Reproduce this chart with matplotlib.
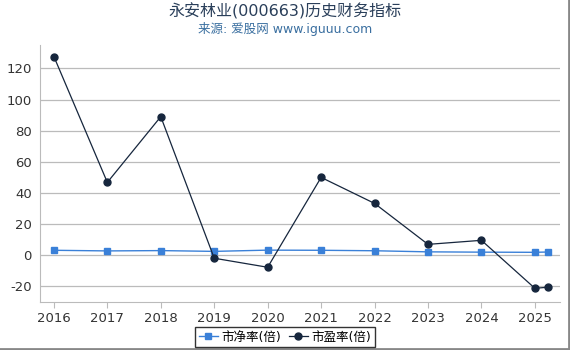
import matplotlib
matplotlib.use("Agg")
import matplotlib.pyplot as plt

plt.rcParams['font.family'] = ['DejaVu Sans', 'Noto Sans CJK SC']
plt.rcParams['axes.unicode_minus'] = False

years = [2016, 2017, 2018, 2019, 2020, 2021, 2022, 2023, 2024, 2025, 2025.25]
pb = [3.2, 2.8, 3.0, 2.5, 3.3, 3.2, 2.9, 2.2, 2.0, 1.9, 2.1]
pe = [127.6, 46.8, 89.0, -1.9, -7.7, 50.0, 33.3, 7.0, 9.6, -21.2, -20.5]
xticks = list(range(2016, 2026))
yticks = [-20, 0, 20, 40, 60, 80, 100, 120]

fig = plt.figure(figsize=(5.7, 3.5), dpi=100)
ax = fig.add_axes([40/570, 48/350, 520/570, 257/350])

ax.plot(years, pb, color='#3a80d8', marker='s', markersize=5, linewidth=1.0, label='市净率(倍)')
ax.plot(years, pe, color='#16263d', marker='o', markersize=5, linewidth=0.9, label='市盈率(倍)')

ax.set_xlim(2015.74, 2025.47)
ax.set_ylim(-30, 135)
ax.set_xticks(xticks)
ax.set_yticks(yticks)
ax.grid(axis='y', color='#bbbbbb', linewidth=0.9)
ax.set_axisbelow(True)
for s in ['top', 'right']:
    ax.spines[s].set_visible(False)
for s in ['left', 'bottom']:
    ax.spines[s].set_color('#bbbbbb')
ax.tick_params(axis='both', colors='#bbbbbb', labelcolor='#333333', labelsize=9.5)
ax.tick_params(axis='y', length=0, pad=6)
ax.tick_params(axis='x', length=4)

fig.text(0.5, 0.968, '永安林业(000663)历史财务指标', ha='center', va='center', fontsize=11.5, color='#2a3f5a')
fig.text(0.5, 0.918, '来源: 爱股网 www.iguuu.com', ha='center', va='center', fontsize=9, color='#3a6fa0')

leg = fig.legend(loc='center', bbox_to_anchor=(285/570, 1 - 337/350), ncol=2, fontsize=9,
                 frameon=True, fancybox=False, edgecolor='black', handlelength=1.5,
                 handletextpad=0.3, columnspacing=0.6, borderpad=0.3)
leg.get_frame().set_linewidth(1.0)

# figure border on right/bottom
fig.add_artist(plt.Line2D([1 - 1.5/570, 1 - 1.5/570], [0, 1], color='#888888', linewidth=2, transform=fig.transFigure))
fig.add_artist(plt.Line2D([0, 1], [1.5/350, 1.5/350], color='#888888', linewidth=2, transform=fig.transFigure))

fig.savefig('out.png', dpi=100)
